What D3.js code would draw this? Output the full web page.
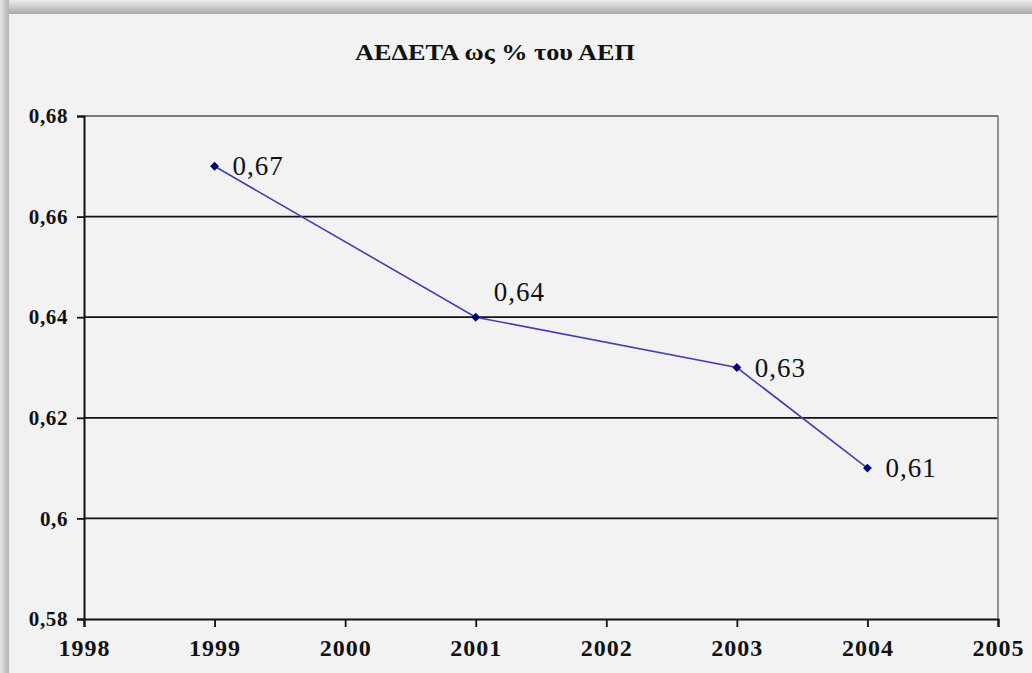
<!DOCTYPE html>
<html><head><meta charset="utf-8">
<script src="https://cdn.jsdelivr.net/npm/d3@7"></script>
<style>html,body{margin:0;padding:0;background:#f2f2f2;overflow:hidden}</style>
</head><body>
<svg id="c" width="1032" height="673"></svg>
<script>
const title = "ΑΕΔΕΤΑ ως % του ΑΕΠ";
const years = [1999, 2001, 2003, 2004];
const values = [0.67, 0.64, 0.63, 0.61];
const valueLabels = ["0,67", "0,64", "0,63", "0,61"];
const labelPlacement = ["right", "above", "right", "right"];
const xTicks = [1998, 1999, 2000, 2001, 2002, 2003, 2004, 2005];
const yTicks = [0.58, 0.60, 0.62, 0.64, 0.66, 0.68];
const yTickLabels = ["0,58", "0,6", "0,62", "0,64", "0,66", "0,68"];

const svg = d3.select("#c");
const W = 1032, H = 673;
const defs = svg.append("defs");
const gt = defs.append("linearGradient").attr("id","gt").attr("x1",0).attr("y1",0).attr("x2",0).attr("y2",1);
gt.append("stop").attr("offset","0%").attr("stop-color","#ececec");
gt.append("stop").attr("offset","100%").attr("stop-color","#a9a9a9");
const gl = defs.append("linearGradient").attr("id","gl").attr("x1",0).attr("y1",0).attr("x2",1).attr("y2",0);
gl.append("stop").attr("offset","0%").attr("stop-color","#e6e6e6");
gl.append("stop").attr("offset","100%").attr("stop-color","#b0b0b0");

svg.append("rect").attr("width",W).attr("height",H).attr("fill","#f2f2f2");
svg.append("rect").attr("x",0).attr("y",0).attr("width",W).attr("height",14).attr("fill","url(#gt)");
svg.append("rect").attr("x",0).attr("y",0).attr("width",9).attr("height",H).attr("fill","url(#gl)");

const x = d3.scaleLinear().domain([1998, 2005]).range([84, 998]);
const y = d3.scaleLinear().domain([0.58, 0.68]).range([619, 116]);

const serif = "'Liberation Serif','Times New Roman',Times,serif";

// title
svg.append("text").attr("x", 495).attr("y", 60).attr("text-anchor","middle")
  .attr("font-family", serif).attr("font-weight","bold").attr("font-size",23)
  .attr("textLength", 280).attr("lengthAdjust","spacingAndGlyphs")
  .attr("fill","#111").text(title);

// gridlines
svg.append("g").selectAll("line").data(yTicks.slice(1)).join("line")
  .attr("x1", x(1998)).attr("x2", x(2005))
  .attr("y1", d => y(d)).attr("y2", d => y(d))
  .attr("stroke", (d,i) => i === yTicks.length-2 ? "#7a7a7a" : "#111")
  .attr("stroke-width", 1.8);
// right border
svg.append("line").attr("x1", x(2005)).attr("x2", x(2005)).attr("y1", y(0.68)).attr("y2", y(0.58))
  .attr("stroke","#7a7a7a").attr("stroke-width",1.6);

// y axis
const yAxis = d3.axisLeft(y).tickValues(yTicks).tickSize(7).tickPadding(9)
  .tickFormat((d,i) => yTickLabels[i]);
const gy = svg.append("g").attr("transform", `translate(${x(1998)},0)`).call(yAxis);
gy.select(".domain").attr("stroke","#111").attr("stroke-width",2);
gy.selectAll(".tick line").attr("stroke","#111").attr("stroke-width",1.8);
gy.selectAll(".tick text").attr("font-family",serif).attr("font-weight","bold")
  .attr("font-size",21).attr("fill","#111").attr("letter-spacing",0.6);

// x axis
const xAxis = d3.axisBottom(x).tickValues(xTicks).tickSize(8).tickPadding(12)
  .tickFormat(d3.format("d"));
const gx = svg.append("g").attr("transform", `translate(0,${y(0.58)})`).call(xAxis);
gx.select(".domain").attr("stroke","#111").attr("stroke-width",2);
gx.selectAll(".tick line").attr("stroke","#111").attr("stroke-width",1.8);
gx.selectAll(".tick text").attr("font-family",serif).attr("font-weight","bold")
  .attr("font-size",24).attr("fill","#111").attr("letter-spacing",1);

// line
const pts = years.map((yr,i) => ({x: yr, y: values[i], label: valueLabels[i], place: labelPlacement[i]}));
svg.append("path").datum(pts)
  .attr("d", d3.line().x(d => x(d.x)).y(d => y(d.y)))
  .attr("fill","none").attr("stroke","#4040b4").attr("stroke-width",1.6);

svg.append("g").selectAll("path").data(pts).join("path")
  .attr("d", d3.symbol(d3.symbolDiamond2, 50))
  .attr("transform", d => `translate(${x(d.x)},${y(d.y)})`)
  .attr("fill","#00007a");

svg.append("g").selectAll("text").data(pts).join("text")
  .attr("x", d => x(d.x) + 18)
  .attr("y", d => y(d.y) + (d.place === "above" ? -16 : 9))
  .attr("font-family", serif).attr("font-size",27).attr("fill","#111")
  .attr("letter-spacing",1)
  .text(d => d.label);
</script>
</body></html>
